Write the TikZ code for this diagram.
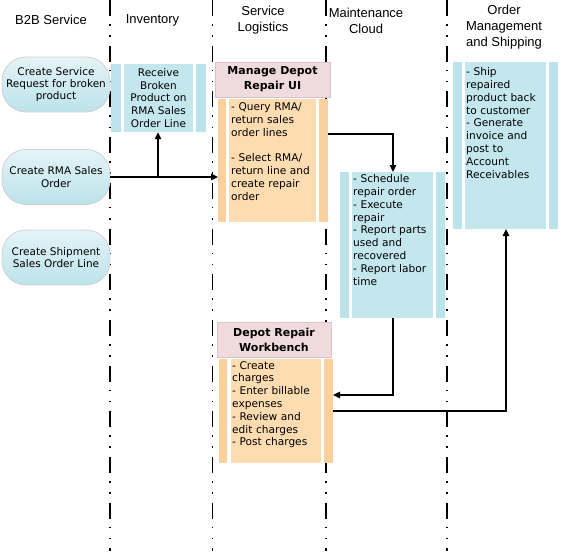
\documentclass[tikz,border=0pt]{standalone}
\usepackage{fontspec}
\setmainfont{DejaVu Sans}
\newfontfamily\hdrfont{Liberation Sans}
\usetikzlibrary{arrows.meta}
\definecolor{bluemain}{HTML}{C4E7EE}
\definecolor{bluestrip}{HTML}{BCE2EA}
\definecolor{bluelight}{HTML}{E4F4F7}
\definecolor{orangemain}{HTML}{FDDCB1}
\definecolor{orangestrip}{HTML}{FAD09C}
\definecolor{pinkfill}{HTML}{EFDADD}
\definecolor{pinkline}{HTML}{DCC3C7}
\tikzset{
  lane/.style={line width=1.4pt, dash pattern=on 16pt off 8pt on 1.6pt off 9.5pt on 1.6pt off 9pt},
  hdr/.style={font=\hdrfont\fontsize{13}{15.8}\selectfont, align=center},
  stadium/.style={draw=black!18, line width=0.8pt, rounded corners=24pt, top color=bluelight, bottom color=bluestrip, minimum width=108pt, minimum height=55pt, align=center, font=\fontsize{10.5}{12.3}\selectfont, inner sep=0pt},
  frame/.style={minimum width=#1, inner sep=0pt, outer sep=0pt},
  boxtxt/.style={font=\fontsize{10.6}{12.8}\selectfont, align=left, anchor=north west, inner sep=0pt, text width=#1},
  pinkhdr/.style={draw=pinkline, fill=pinkfill, line width=0.6pt, font=\bfseries\fontsize{11}{15}\selectfont, align=center, inner sep=0pt},
  arr/.style={line width=1.3pt, -{Triangle[length=7pt,width=6.5pt]}}
}
\begin{document}
\begin{tikzpicture}[x=1pt,y=-1pt]
\useasboundingbox (0,0) rectangle (561,551);
% lanes
\draw[lane] (110,0) -- (110,551);
\draw[lane] (212.5,0) -- (212.5,551);
\draw[lane] (326,0) -- (326,551);
\draw[lane] (447,0) -- (447,551);
% headers
\node[hdr] (h1) at (51,20) {B2B Service};
\node[hdr] (h2) at (152.5,20) {Inventory};
\node[hdr] (h3) at (263,20.5) {Service\\Logistics};
\node[hdr] (h4) at (366,20.5) {Maintenance\\Cloud};
\node[hdr] (h5) at (504,27) {Order\\Management\\and Shipping};
% B2B stadiums
\node[stadium] (e1) at (56,84.5) {Create Service\\Request for broken\\product};
\node[stadium] (e2) at (56,177) {Create RMA Sales\\Order};
\node[stadium] (e3) at (56,257.5) {Create Shipment\\Sales Order Line};
% Inventory box
\fill[bluestrip] (111,64) rectangle (121,132);
\fill[bluestrip] (196,64) rectangle (206,132);
\node[fill=bluemain, minimum width=69pt, minimum height=68pt, inner sep=0pt, align=center, font=\fontsize{10.5}{12.9}\selectfont] (inv) at (158.5,98) {Receive\\Broken\\Product on\\RMA Sales\\Order Line};
% Manage Depot Repair UI
\node[pinkhdr, minimum width=115pt, minimum height=35pt] (mdh) at (272.5,79.5) {Manage Depot\\Repair UI};
\node[frame=110pt, minimum height=123pt] (mdb) at (273,160.5) {};
\fill[orangestrip] (218,99) rectangle (226,222);
\fill[orangestrip] (319,99) rectangle (328,222);
\fill[orangemain] (229,99) rectangle (316,222);
\node[boxtxt=86pt] (mdt) at (231,102.5) {- Query RMA/\\return sales\\order lines\\[12.8pt]- Select RMA/\\return line and\\create repair\\order};
% Maintenance Cloud box
\node[frame=105pt, minimum height=146pt] (mc) at (392.5,245) {};
\fill[bluestrip] (340,172) rectangle (349,318);
\fill[bluestrip] (436,172) rectangle (445,318);
\fill[bluemain] (352,172) rectangle (433,318);
\node[boxtxt=81pt] (mct) at (353,174.5) {- Schedule\\repair order\\- Execute\\repair\\- Report parts\\used and\\recovered\\- Report labor\\time};
% Order management box
\node[frame=105pt, minimum height=167pt] (om) at (505.5,145.5) {};
\fill[bluestrip] (453,62) rectangle (462,229);
\fill[bluestrip] (549,62) rectangle (558,229);
\fill[bluemain] (465,62) rectangle (546,229);
\node[boxtxt=81pt] (omt) at (466,67.5) {- Ship\\repaired\\product back\\to customer\\- Generate\\invoice and\\post to\\Account\\Receivables};
% Depot Repair Workbench
\node[pinkhdr, minimum width=114pt, minimum height=35pt] (dwh) at (274,339.5) {Depot Repair\\Workbench};
\node[frame=114pt, minimum height=104pt] (dwb) at (276,411) {};
\fill[orangestrip] (219,359) rectangle (227,463);
\fill[orangestrip] (324,359) rectangle (333,463);
\fill[orangemain] (231,359) rectangle (321,463);
\node[boxtxt=89pt] (dwt) at (232,361) {- Create\\charges\\- Enter billable\\expenses\\- Review and\\edit charges\\- Post charges};
% connectors
\coordinate (c1) at (158,177);
\draw[arr] (e2.east) -- (e2.east -| mdb.west);
\draw[arr] (c1) -- (c1 |- inv.south);
\coordinate (c2) at (393,134);
\draw[arr] (c2 -| mdb.east) -- (c2) -- (c2 |- mc.north);
\coordinate (c3) at (393,395);
\draw[arr] (c3 |- mc.south) -- (c3) -- (c3 -| dwb.east);
\coordinate (c4) at (506,411);
\draw[arr] (c4 -| dwb.east) -- (c4) -- (c4 |- om.south);
\end{tikzpicture}
\end{document}
